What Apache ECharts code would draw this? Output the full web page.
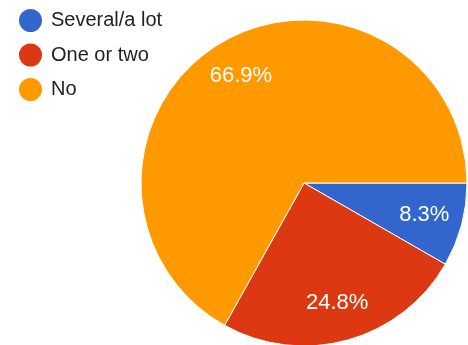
<!DOCTYPE html>
<html>
<head>
<meta charset="utf-8">
<script src="https://cdn.jsdelivr.net/npm/echarts@6/dist/echarts.min.js"></script>
<style>
html,body{margin:0;padding:0;background:#fff;}
#c{width:468px;height:345px;}
</style>
</head>
<body>
<div id="c"></div>
<script>
var categories = ['Several/a lot', 'One or two', 'No'];
var values = [8.3, 24.8, 66.9];
var colors = ['#3366cc', '#dc3912', '#ff9900'];

var chart = echarts.init(document.getElementById('c'), null, {renderer: 'canvas'});
var data = categories.map(function (c, i) {
  return {name: c, value: values[i], itemStyle: {color: colors[i]}};
});
var labelData = categories.map(function (c, i) {
  return {name: c, value: values[i]};
});
chart.setOption({
  animation: false,
  legend: {
    orient: 'vertical',
    left: 17,
    top: 7,
    padding: 0,
    icon: 'circle',
    itemWidth: 25,
    itemHeight: 25,
    itemGap: 7.5,
    selectedMode: false,
    data: categories,
    textStyle: {
      fontFamily: 'Liberation Sans, Arial, sans-serif',
      fontSize: 20,
      color: '#222222',
      padding: [0, 0, 0, 3]
    }
  },
  series: [
    {
      type: 'pie',
      center: [304, 183],
      radius: [0, 163],
      startAngle: 0,
      clockwise: true,
      silent: true,
      label: {show: false},
      labelLine: {show: false},
      itemStyle: {borderColor: '#ffffff', borderWidth: 1},
      data: data
    },
    {
      type: 'pie',
      center: [304, 183],
      radius: [80, 163],
      startAngle: 0,
      clockwise: true,
      silent: true,
      legendHoverLink: false,
      itemStyle: {color: 'rgba(0,0,0,0)', borderWidth: 0},
      label: {
        show: true,
        position: 'inside',
        formatter: function (p) { return p.value.toFixed(1) + '%'; },
        color: '#ffffff',
        fontFamily: 'Liberation Sans, Arial, sans-serif',
        fontSize: 22
      },
      labelLine: {show: false},
      data: labelData
    }
  ]
});
</script>
</body>
</html>
